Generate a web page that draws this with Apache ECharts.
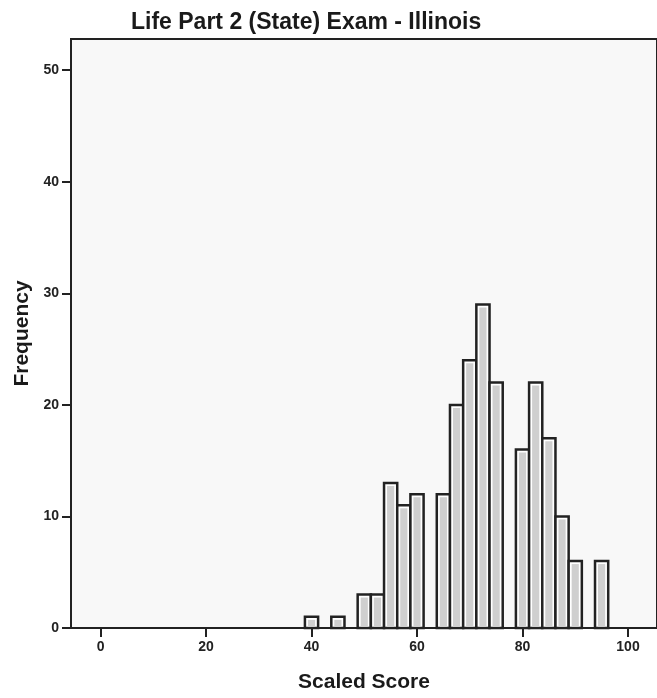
<!DOCTYPE html>
<html>
<head>
<meta charset="utf-8">
<script src="https://cdn.jsdelivr.net/npm/echarts@6/dist/echarts.min.js"></script>
<style>
  html, body { margin: 0; padding: 0; background: #fff; }
  #chart { width: 657px; height: 698px; }
</style>
</head>
<body>
<div id="chart"></div>
<script>
// histogram bins (centre of each 2.5-wide bin) and their counts
var binCenters = [40, 42.5, 45, 47.5, 50, 52.5, 55, 57.5, 60, 62.5, 65, 67.5, 70, 72.5, 75, 77.5, 80, 82.5, 85, 87.5, 90, 92.5, 95];
var counts     = [1,  0,    1,  0,    3,  3,    13, 11,   12, 0,    12, 20,   24, 29,   22, 0,    16, 22,   17, 10,   6,  0,    6];
var binWidth = 2.5;
var xTicks = [0, 20, 40, 60, 80, 100];
var yTicks = [0, 10, 20, 30, 40, 50];

var bars = [];
for (var i = 0; i < binCenters.length; i++) {
  if (counts[i] > 0) bars.push([binCenters[i], counts[i]]);
}

var myChart = echarts.init(document.getElementById('chart'));

var fontFam = '"Liberation Sans", Arial, sans-serif';

option = {
  animation: false,
  title: {
    text: 'Life Part 2 (State) Exam - Illinois',
    left: 126,
    top: 6,
    textStyle: { fontFamily: fontFam, fontWeight: 'bold', fontSize: 23, color: '#1a1a1a' }
  },
  grid: {
    left: 71, top: 39, right: -6, bottom: 67,
    show: true,
    backgroundColor: '#f8f8f8',
    borderColor: '#222',
    borderWidth: 2
  },
  xAxis: {
    type: 'value',
    min: -5.6,
    max: 105.5,
    name: 'Scaled Score',
    nameLocation: 'middle',
    nameGap: 44,
    nameTextStyle: { fontFamily: fontFam, fontWeight: 'bold', fontSize: 21, color: '#1a1a1a' },
    axisLine: { show: true, onZero: false, lineStyle: { color: '#222', width: 2 } },
    axisTick: { show: true, customValues: xTicks, length: 9, lineStyle: { color: '#222', width: 2 } },
    axisLabel: { customValues: xTicks, margin: 12, fontFamily: fontFam, fontWeight: 'bold', fontSize: 14, color: '#222' },
    splitLine: { show: false }
  },
  yAxis: {
    type: 'value',
    min: 0,
    max: 52.8,
    name: 'Frequency',
    nameLocation: 'middle',
    nameGap: 38,
    nameTextStyle: { fontFamily: fontFam, fontWeight: 'bold', fontSize: 21, color: '#1a1a1a' },
    axisLine: { show: true, onZero: false, lineStyle: { color: '#222', width: 2 } },
    axisTick: { show: true, customValues: yTicks, length: 9, lineStyle: { color: '#222', width: 2 } },
    axisLabel: { customValues: yTicks, margin: 12, fontFamily: fontFam, fontWeight: 'bold', fontSize: 14, color: '#222' },
    splitLine: { show: false }
  },
  series: [{
    type: 'custom',
    data: bars,
    renderItem: function (params, api) {
      var c = api.value(0), n = api.value(1);
      var p0 = api.coord([c - binWidth / 2, n]);
      var p1 = api.coord([c + binWidth / 2, 0]);
      var x = p0[0], y = p0[1], w = p1[0] - p0[0], h = p1[1] - p0[1];
      return {
        type: 'group',
        children: [
          { type: 'rect', shape: { x: x, y: y, width: w, height: h },
            style: { fill: '#ffffff', stroke: '#222', lineWidth: 2.5 } },
          { type: 'rect', shape: { x: x + 3, y: y + 3, width: w - 6, height: h - 4 },
            style: { fill: '#cfcfcf' } }
        ]
      };
    }
  }]
};

myChart.setOption(option);
</script>
</body>
</html>
